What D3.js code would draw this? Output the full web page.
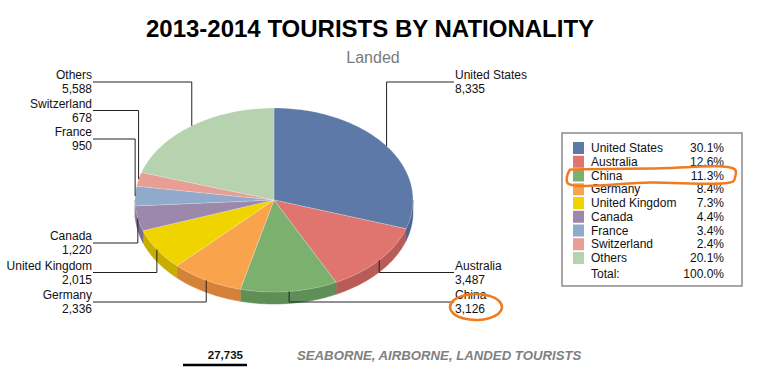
<!DOCTYPE html>
<html><head><meta charset="utf-8">
<script src="https://cdn.jsdelivr.net/npm/d3@7"></script>
<style>body{margin:0;background:#fff;font-family:Arial,"Liberation Sans",sans-serif}</style>
</head><body><svg id="c" width="759" height="381"></svg>
<script>
const categories = ["United States","Australia","China","Germany","United Kingdom","Canada","France","Switzerland","Others"];
const values = [8335,3487,3126,2336,2015,1220,950,678,5588];
const topColors = ["#5d79a7","#e0746f","#7bb06f","#f9a34d","#efd400","#9b88aa","#8faacb","#e89d95","#b6d2ae"];
const sideColors = ["#4b6590","#b95b56","#5f8f57","#d4823a","#c6ad00","#7d6b8d","#7189aa","#c47d76","#93ae8c"];
const titleText = "2013-2014 TOURISTS BY NATIONALITY";
const subtitleText = "Landed";
const footerText = "SEABORNE, AIRBORNE, LANDED TOURISTS";

const svg = d3.select("#c");
const total = d3.sum(values);
const fmt = d3.format(",");
const pctFmt = v => (Math.round(v * 1000 / total) / 10).toFixed(1) + "%";

// titles
svg.append("text").attr("x",370).attr("y",37).attr("text-anchor","middle")
  .attr("font-size",24).attr("font-weight","bold").attr("fill","#000").text(titleText);
svg.append("text").attr("x",373).attr("y",63).attr("text-anchor","middle")
  .attr("font-size",16).attr("fill","#7a7a7a").text(subtitleText);

// pie geometry
const cx = 274, cy = 200, rx = 139, ry = 92, depth = 12;
const pie = d3.pie().sort(null).value(d => d.v);
const data = categories.map((c,i)=>({c, v: values[i], i}));
const arcs = pie(data);
const pt = (a, dy=0) => [cx + rx*Math.sin(a), cy - ry*Math.cos(a) + dy];
const line = d3.line();
function samples(a0, a1, dy) {
  const n = Math.max(2, Math.ceil((a1-a0)/0.02));
  return d3.range(n+1).map(k => pt(a0 + (a1-a0)*k/n, dy));
}
const g = svg.append("g");
// side walls (front half only)
arcs.forEach(a => {
  const s = Math.max(a.startAngle, Math.PI/2), e = Math.min(a.endAngle, 3*Math.PI/2);
  if (s < e) {
    const pts = samples(s, e, 0).concat(samples(s, e, depth).reverse());
    g.append("path").attr("d", line(pts) + "Z").attr("fill", sideColors[a.data.i])
      .attr("stroke", sideColors[a.data.i]).attr("stroke-width",0.5);
  }
});
// top faces
arcs.forEach(a => {
  const pts = [[cx,cy]].concat(samples(a.startAngle, a.endAngle, 0));
  g.append("path").attr("d", line(pts) + "Z").attr("fill", topColors[a.data.i])
    .attr("stroke","#ffffff").attr("stroke-opacity",0.35).attr("stroke-width",0.6);
});

// leader lines and labels
const topY = cy - ry - 26, botY = cy + ry + 10, step = 29;
const leftX = 93, rightX = 454;
const items = arcs.map(a => {
  const m = (a.startAngle + a.endAngle)/2;
  const p = pt(m);
  return {a, m, p, side: m < Math.PI ? "right" : "left"};
});
["left","right"].forEach(side => {
  const sideItems = items.filter(d => d.side === side);
  const upper = sideItems.filter(d => d.p[1] < cy).sort((x,y)=>x.p[1]-y.p[1]);
  const lower = sideItems.filter(d => d.p[1] >= cy).sort((x,y)=>y.p[1]-x.p[1]);
  upper.forEach((d,k) => d.ly = topY + k*(step-0.5));
  lower.forEach((d,k) => d.ly = botY - k*(step+0.5));
});
const lg = svg.append("g");
items.forEach(d => {
  const ex = d.side === "left" ? leftX : rightX;
  lg.append("path").attr("d", line([d.p, [d.p[0], d.ly], [ex, d.ly]]))
    .attr("fill","none").attr("stroke","#222").attr("stroke-width",1);
  const tx = d.side === "left" ? ex - 1 : ex + 1;
  const anchor = d.side === "left" ? "end" : "start";
  const t = lg.append("text").attr("font-size",12).attr("fill","#111").attr("text-anchor",anchor);
  t.append("tspan").attr("x",tx).attr("y",d.ly - 3).text(d.a.data.c);
  t.append("tspan").attr("x",tx).attr("y",d.ly + 11).text(fmt(d.a.data.v));
  d.tx = tx;
});

// legend
const lgX = 562, lgY = 133, lgW = 180, lgH = 153, rowH = 13.75, firstRow = 148;
const leg = svg.append("g");
leg.append("rect").attr("x",lgX).attr("y",lgY).attr("width",lgW).attr("height",lgH)
  .attr("fill","#fff").attr("stroke","#8a8a8a").attr("stroke-width",1.5);
categories.forEach((c,i) => {
  const y = firstRow + i*rowH;
  leg.append("rect").attr("x",573).attr("y",y-6).attr("width",11).attr("height",12).attr("fill",topColors[i]);
  leg.append("text").attr("x",591).attr("y",y+4).attr("font-size",12).attr("fill","#111").text(c);
  leg.append("text").attr("x",724).attr("y",y+4).attr("font-size",12).attr("fill","#111")
    .attr("text-anchor","end").text(pctFmt(values[i]));
});
const totY = firstRow + categories.length*rowH + 2;
leg.append("text").attr("x",591).attr("y",totY+4).attr("font-size",12).attr("fill","#111").text("Total:");
leg.append("text").attr("x",724).attr("y",totY+4).attr("font-size",12).attr("fill","#111")
  .attr("text-anchor","end").text(pctFmt(total));

// footer
svg.append("text").attr("x",243).attr("y",359).attr("text-anchor","end")
  .attr("font-size",11.5).attr("font-weight","bold").attr("fill","#111").text(fmt(total));
svg.append("line").attr("x1",183).attr("x2",247).attr("y1",365).attr("y2",365)
  .attr("stroke","#000").attr("stroke-width",2.5);
svg.append("text").attr("x",297).attr("y",360).attr("font-size",13.2).attr("font-weight","bold")
  .attr("font-style","italic").attr("fill","#808080").text(footerText);

// hand-drawn orange highlights (annotation)
const hiIdx = categories.indexOf("China");
const hy = firstRow + hiIdx*rowH;
const ann = svg.append("g").attr("fill","none").attr("stroke","#f07c22").attr("stroke-width",2.5)
  .attr("stroke-linecap","round").attr("stroke-linejoin","round");
ann.append("path").attr("d", d3.line().curve(d3.curveCatmullRom)([
  [572,hy-6],[650,hy-7],[735,hy-6],[735,hy+2],[733,hy+6],[650,hy+7],[568,hy+8],[567,hy+1],[570,hy-6]
]));
const china = items.find(d => d.a.data.c === "China");
const ccx = china.tx + 21, ccy = china.ly + 5;
ann.append("path").attr("d", d3.line().curve(d3.curveCatmullRomClosed)(
  d3.range(0, 12).map(k => { const t = k/12*2*Math.PI; return [ccx + 26*Math.cos(t) + (k===3?2:0), ccy + 13*Math.sin(t)]; })
));
</script></body></html>
